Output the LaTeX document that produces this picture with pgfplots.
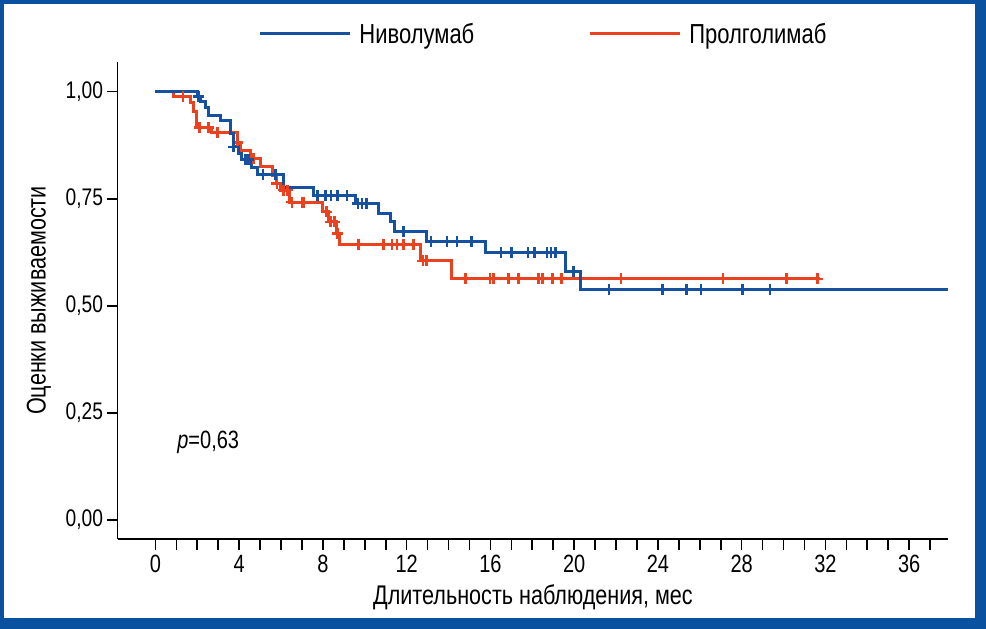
\documentclass[border=0pt]{standalone}
\usepackage{fontspec}
\setmainfont[FakeStretch=0.8]{Liberation Sans}
\usepackage{pgfplots}
\pgfplotsset{compat=1.18}
\definecolor{nivo}{RGB}{22,80,160}
\definecolor{prol}{RGB}{234,66,30}
\definecolor{framec}{RGB}{10,82,160}
\begin{document}
\begin{tikzpicture}
\useasboundingbox (0,0) rectangle (986pt,629pt);
\fill[framec] (0,0) rectangle (986pt,629pt);
\fill[white] (4pt,11pt) rectangle (975pt,625pt);
\begin{axis}[
  at={(117.7pt,89.7pt)}, anchor=south west,
  scale only axis, width=830.6pt, height=477.6pt,
  xmin=-1.8, xmax=37.87, ymin=-0.045, ymax=1.0698,
  axis x line*=bottom, axis y line*=left,
  axis line style={line width=1.6pt, black},
  every tick/.style={line width=1.6pt, black},
  tick align=outside,
  major tick length=10.5pt, minor tick length=10.5pt,
  xtick={0,4,...,36}, minor xtick={0,1,...,37},
  xticklabels={0,4,8,12,16,20,24,28,32,36},
  ytick={0,0.25,0.5,0.75,1},
  yticklabels={{0,00},{0,25},{0,50},{0,75},{1,00}},
  xticklabel style={font=\fontsize{25}{27}\selectfont, inner sep=1pt, yshift=-4pt},
  yticklabel style={font=\fontsize{24}{26}\selectfont, inner sep=1pt, xshift=-3pt},
  xlabel={Длительность наблюдения, мес},
  ylabel={Оценки выживаемости},
  xlabel style={font=\fontsize{27}{29}\selectfont, at={(axis description cs:0.5,-0.121)}, anchor=center},
  ylabel style={font=\fontsize{27}{29}\selectfont, at={(axis description cs:-0.0948,0.5)}, anchor=center},
  clip=false,
  legend columns=2,
  reverse legend,
  legend style={draw=none, fill=none, at={(0.5125,1.058)}, anchor=center,
    font=\fontsize{27.5}{30}\selectfont,
    /tikz/every odd column/.append style={column sep=6pt},
    /tikz/every even column/.append style={column sep=112pt}},
  legend image code/.code={\draw[#1, line width=3pt] (0pt,0pt) -- (90pt,0pt);},
]
\addplot[const plot, prol, line width=3pt] coordinates {
(0,1.000) (0.85,0.989) (1.67,0.975) (1.82,0.953) (1.95,0.916) (2.70,0.904)
(3.92,0.881) (4.05,0.862) (4.53,0.843) (5.01,0.826) (5.57,0.805) (5.78,0.785)
(5.97,0.770) (6.41,0.742) (7.96,0.719) (8.25,0.696) (8.65,0.669) (8.80,0.644)
(12.65,0.605) (14.16,0.563) (31.75,0.563)};
\addlegendentry{Пролголимаб}
\addplot[only marks, mark=+, mark size=5.5pt, prol, line width=2.6pt, forget plot] coordinates {
(1.32,0.989) (2.12,0.916) (2.55,0.916) (2.97,0.904) (3.93,0.881) (4.69,0.843)
(5.80,0.785) (6.12,0.770) (6.30,0.770) (6.52,0.742) (7.00,0.742) (7.10,0.742)
(8.16,0.719) (8.35,0.696) (8.56,0.696) (8.70,0.669)
(9.70,0.644) (10.90,0.644) (11.30,0.644) (11.54,0.644) (11.85,0.644) (12.33,0.644)
(12.78,0.605) (12.94,0.605)
(14.80,0.563) (15.99,0.563) (16.15,0.563) (16.86,0.563) (17.34,0.563) (18.30,0.563)
(18.50,0.563) (18.98,0.563) (19.41,0.563) (22.23,0.563) (27.10,0.563) (30.15,0.563) (31.61,0.563)};
\addplot[const plot, nivo, line width=3pt] coordinates {
(0,1.000) (1.99,0.988) (2.15,0.976) (2.40,0.964) (2.55,0.945) (3.10,0.932)
(3.58,0.902) (3.72,0.871) (3.95,0.855) (4.10,0.841) (4.60,0.824) (4.90,0.807)
(6.12,0.776) (7.55,0.758) (9.55,0.739) (10.66,0.716) (11.25,0.696) (11.40,0.674)
(12.97,0.651) (15.75,0.624) (19.57,0.581) (20.29,0.537) (37.85,0.537)};
\addlegendentry{Ниволумаб}
\addplot[only marks, mark=+, mark size=5.5pt, nivo, line width=2.6pt, forget plot] coordinates {
(2.07,0.988) (3.74,0.871) (4.30,0.841) (4.45,0.841) (5.14,0.807) (5.73,0.807)
(7.75,0.758) (8.13,0.758) (8.38,0.758) (8.70,0.758) (9.15,0.758)
(9.67,0.739) (9.87,0.739) (10.07,0.739) (11.85,0.674)
(13.17,0.651) (13.92,0.651) (14.40,0.651) (15.10,0.651)
(16.50,0.624) (17.00,0.624) (17.80,0.624) (18.10,0.624) (18.70,0.624) (18.90,0.624) (19.10,0.624)
(19.96,0.581)
(21.67,0.537) (24.23,0.537) (25.38,0.537) (26.06,0.537) (28.05,0.537) (29.36,0.537)};
\node[anchor=base west, inner sep=0pt, font=\fontsize{25}{27}\selectfont] at (axis cs:1.04,0.168) {\textit{p}=0,63};
\end{axis}
\end{tikzpicture}
\end{document}
